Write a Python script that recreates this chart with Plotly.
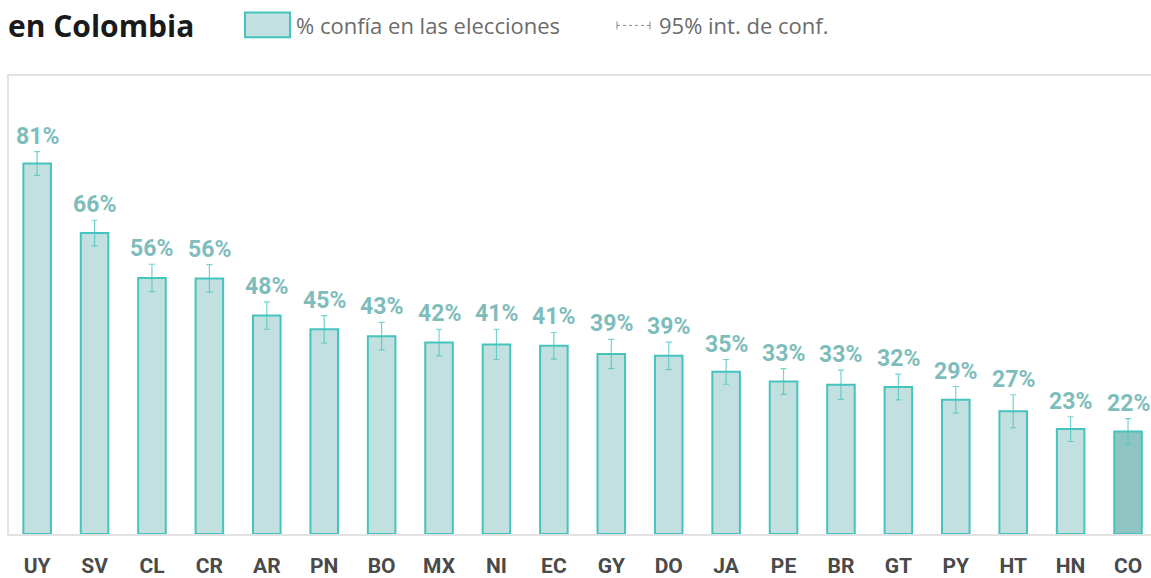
import plotly.graph_objects as go

countries = ["UY", "SV", "CL", "CR", "AR", "PN", "BO", "MX", "NI", "EC",
             "GY", "DO", "JA", "PE", "BR", "GT", "PY", "HT", "HN", "CO"]
values = [80.9, 65.7, 55.9, 55.8, 47.7, 44.7, 43.2, 41.8, 41.4, 41.1,
          39.3, 38.9, 35.4, 33.3, 32.6, 32.1, 29.3, 26.8, 22.9, 22.4]
errors = [2.6, 2.8, 3.0, 3.0, 3.0, 3.0, 3.0, 2.9, 3.3, 2.9,
          3.2, 3.0, 2.7, 2.8, 3.2, 2.8, 2.9, 3.6, 2.7, 2.8]
labels = [f"{round(v)}%" for v in values]
highlight = "CO"

W, H = 1151, 578
ML, MR, MT, MB = 9, 0, 76, 40
PW, PH = W - ML - MR, H - MT - MB

def px(x):
    return (x - ML) / PW

def py(y):
    return (H - MB - y) / PH

fill = ["#8ec5c3" if c == highlight else "#c3e0e0" for c in countries]

fig = go.Figure()
fig.add_trace(go.Bar(
    x=countries, y=values,
    marker=dict(color=fill, line=dict(color="#45c3bd", width=2)),
    error_y=dict(type="data", array=errors, visible=True,
                 color="rgba(69,195,189,0.75)", thickness=1.2, width=3),
    hoverinfo="skip",
))

annotations = []
for c, v, e, t in zip(countries, values, errors, labels):
    annotations.append(dict(
        x=c, y=v + e, xref="x", yref="y", text=t, showarrow=False,
        yanchor="bottom", yshift=0,
        font=dict(family="Roboto, sans-serif", size=23, color="#7fbdbc", weight="bold"),
    ))

# title
annotations.append(dict(
    x=px(6), y=py(25), xref="paper", yref="paper", text="<b>en Colombia</b>",
    showarrow=False, xanchor="left", yanchor="middle",
    font=dict(family="Open Sans, sans-serif", size=30, color="#1a1a1a"),
))
# legend texts
annotations.append(dict(
    x=px(294), y=py(25), xref="paper", yref="paper", text="% confía en las elecciones",
    showarrow=False, xanchor="left", yanchor="middle",
    font=dict(family="Open Sans, sans-serif", size=22, color="#6b6b6b"),
))
annotations.append(dict(
    x=px(657), y=py(25), xref="paper", yref="paper", text="95% int. de conf.",
    showarrow=False, xanchor="left", yanchor="middle",
    font=dict(family="Open Sans, sans-serif", size=22, color="#6b6b6b"),
))

shapes = [
    dict(type="rect", xref="paper", yref="paper",
         x0=px(245), x1=px(290), y0=py(37), y1=py(12),
         fillcolor="#c3e0e0", line=dict(color="#45c3bd", width=2)),
    dict(type="line", xref="paper", yref="paper",
         x0=px(617), x1=px(650), y0=py(25), y1=py(25),
         line=dict(color="#8a8a8a", width=1, dash="dot")),
    dict(type="line", xref="paper", yref="paper",
         x0=px(617), x1=px(617), y0=py(21), y1=py(29),
         line=dict(color="#8a8a8a", width=1)),
    dict(type="line", xref="paper", yref="paper",
         x0=px(650), x1=px(650), y0=py(21), y1=py(29),
         line=dict(color="#8a8a8a", width=1)),
]

fig.update_layout(
    width=W, height=H,
    margin=dict(l=ML, r=MR, t=MT, b=MB, pad=0),
    paper_bgcolor="white", plot_bgcolor="white",
    showlegend=False, bargap=0.52,
    annotations=annotations, shapes=shapes,
    xaxis=dict(range=[-0.49, 19.4], showgrid=False, showline=True, mirror=True,
               linecolor="#e2e2e2", linewidth=2, ticks="", ticklabelstandoff=12,
               tickfont=dict(family="Roboto, sans-serif", size=21, color="#4a4a4a", weight="bold")),
    yaxis=dict(range=[0, 100], showgrid=False, showticklabels=False, zeroline=False,
               showline=True, linecolor="#e2e2e2", linewidth=2, ticks=""),
)

fig.write_html("out.html", config={"displayModeBar": False},
               post_script="document.body.style.margin='0';document.body.style.overflow='hidden';")
